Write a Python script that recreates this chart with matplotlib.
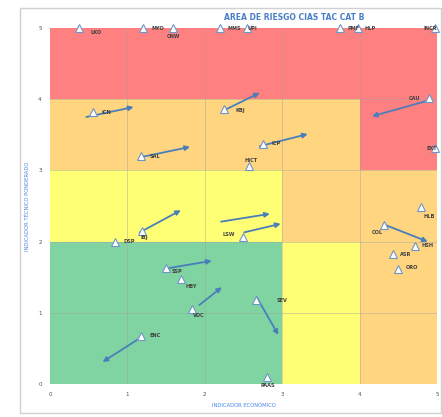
import matplotlib.pyplot as plt
from matplotlib.patches import Rectangle

# companies: name, economic indicator (x), weighted technical indicator (y)
names = ['LKO', 'MYO', 'CNW', 'MMS', 'UPI', 'PMF', 'HLP', 'INCR',
         'ICN', 'KBJ', 'CAU', 'EXT', 'SAL', 'ICP', 'HICT',
         'IBJ', 'DSP', 'LSW', 'HLB', 'COL', 'HSH', 'ASR', 'ORO',
         'SSP', 'HBY', 'VDC', 'SEV', 'ENC', 'PAAS']
x_econ = [0.37, 1.20, 1.59, 2.20, 2.55, 3.75, 3.98, 4.98,
          0.56, 2.25, 4.90, 4.98, 1.18, 2.75, 2.57,
          1.19, 0.84, 2.49, 4.79, 4.32, 4.72, 4.43, 4.50,
          1.50, 1.69, 1.83, 2.66, 1.18, 2.80]
y_tec = [5.0, 5.0, 5.0, 5.0, 5.0, 5.0, 5.0, 5.0,
         3.82, 3.86, 4.02, 3.31, 3.20, 3.37, 3.06,
         2.15, 2.00, 2.06, 2.49, 2.23, 1.94, 1.83, 1.62,
         1.63, 1.47, 1.05, 1.18, 0.67, 0.10]

# movement arrows (start -> end)
arr_x0 = [0.47, 2.26, 4.85, 1.19, 2.71, 1.16, 2.21, 2.51, 4.34, 1.49, 1.93, 2.67, 1.14]
arr_y0 = [3.75, 3.85, 3.97, 3.19, 3.34, 2.13, 2.28, 2.13, 2.23, 1.62, 1.11, 1.22, 0.63]
arr_x1 = [1.08, 2.71, 4.16, 1.81, 3.33, 1.69, 2.84, 2.98, 4.88, 2.09, 2.22, 2.95, 0.68]
arr_y1 = [3.89, 4.09, 3.76, 3.33, 3.51, 2.44, 2.39, 2.25, 2.00, 1.73, 1.36, 0.69, 0.31]

# risk zone colour grid, rows from y=0 upward, columns x=0..5
RED, ORA, YEL, GRN = '#FF8080', '#FFD580', '#FFFF75', '#80D4A2'
zones = [
    [GRN, GRN, GRN, YEL, ORA],
    [GRN, GRN, GRN, YEL, ORA],
    [YEL, YEL, YEL, ORA, ORA],
    [ORA, ORA, ORA, ORA, RED],
    [RED, RED, RED, RED, RED],
]

# label offsets in pixels (placement only)
label_off = {
    'LKO': (17, -5), 'MYO': (15, 0), 'CNW': (0, -9), 'MMS': (14, 0), 'UPI': (5, 0),
    'PMF': (13, 0), 'HLP': (12, 0), 'INCR': (-5, 0), 'ICN': (13, 0), 'KBJ': (16, -1),
    'CAU': (-15, -1), 'EXT': (-4, 0), 'SAL': (14, 0), 'ICP': (13, 1), 'HICT': (2, 6),
    'IBJ': (2, -7), 'DSP': (14, 0), 'LSW': (-14, 3), 'HLB': (8, -10), 'COL': (-7, -7),
    'HSH': (12, 0), 'ASR': (13, -1), 'ORO': (14, 1), 'SSP': (11, -4), 'HBY': (10, -7),
    'VDC': (7, -6), 'SEV': (26, -1), 'ENC': (14, 1), 'PAAS': (1, -9),
}

fig = plt.figure(figsize=(4.42, 4.17), dpi=100)
fig.patches.append(Rectangle((20 / 442, 4 / 417), 421 / 442, 405 / 417,
                             transform=fig.transFigure, fill=False,
                             edgecolor='#D0D0D0', lw=1))
ax = fig.add_axes([50 / 442, 33 / 417, 387 / 442, 356 / 417])

for r, row in enumerate(zones):
    for c, col in enumerate(row):
        ax.add_patch(Rectangle((c, r), 1, 1, facecolor=col, edgecolor='none', zorder=0))

for v in range(1, 5):
    ax.axvline(v, color='#A0A0A0', lw=0.5, alpha=0.6, zorder=1)
    ax.axhline(v, color='#A0A0A0', lw=0.5, alpha=0.6, zorder=1)

for i in range(len(arr_x0)):
    ax.annotate('', xy=(arr_x1[i], arr_y1[i]), xytext=(arr_x0[i], arr_y0[i]),
                arrowprops=dict(arrowstyle='-|>', color='#4A7EBB', lw=1.3,
                                mutation_scale=7, shrinkA=0, shrinkB=0), zorder=3)

ax.plot(x_econ, y_tec, linestyle='none', marker='^', markersize=6,
        markerfacecolor='white', markeredgecolor='#6F95C8', markeredgewidth=0.8,
        zorder=4, clip_on=False)

for n, xv, yv in zip(names, x_econ, y_tec):
    dx, dy = label_off[n]
    ax.annotate(n, (xv, yv), xytext=(dx, dy), textcoords='offset pixels',
                ha='center', va='center', fontsize=3.6, fontweight='bold',
                color='#404040', zorder=5)

ax.set_xlim(0, 5)
ax.set_ylim(0, 5)
ax.set_xticks(range(6))
ax.set_yticks(range(6))
ax.tick_params(length=0, labelsize=4, colors='#505050', pad=6)
for s in ax.spines.values():
    s.set_visible(False)

ax.set_xlabel('INDICADOR ECONÓMICO', fontsize=3.8, color='#4A86E8', labelpad=4)
ax.set_ylabel('INDICADOR TÉCNICO PONDERADO', fontsize=3.8, color='#4A86E8', labelpad=6)
fig.text(294 / 442, 399 / 417, 'AREA DE RIESGO CIAS TAC CAT B', ha='center', va='center',
         fontsize=5.5, fontweight='bold', color='#4A7EC8')

fig.savefig('out.png', dpi=100)
